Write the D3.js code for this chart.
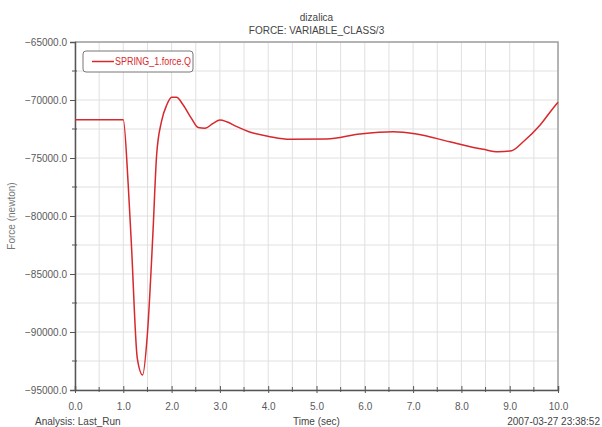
<!DOCTYPE html>
<html>
<head>
<meta charset="utf-8">
<script src="https://cdn.jsdelivr.net/npm/d3@7"></script>
<style>
  body { margin: 0; background: #fff; }
  svg text { font-family: "Liberation Sans", Arial, sans-serif; fill: #444; }
</style>
</head>
<body>
<div id="vis"></div>
<script>
// Data
var times = [0, 1.0, 1.10, 1.17, 1.29, 1.40, 1.50, 1.61, 1.69, 1.79, 1.90, 2.00, 2.10, 2.24, 2.41, 2.55, 2.69, 2.86, 3.0, 3.14, 3.35, 3.60, 4.04, 4.45, 5.21, 5.90, 6.59, 7.07, 7.76, 8.45, 8.76, 9.04, 9.28, 9.63, 9.87, 10.0];
var forces = [-71700, -71700, -77180, -82650, -92270, -93700, -90110, -81780, -74740, -71870, -70430, -69770, -69770, -70430, -71580, -72380, -72440, -72010, -71720, -71870, -72300, -72730, -73160, -73390, -73360, -72930, -72730, -72930, -73600, -74250, -74460, -74370, -73600, -72160, -70860, -70200];
var xTicks = [0, 1, 2, 3, 4, 5, 6, 7, 8, 9, 10];
var yTicks = [-65000, -70000, -75000, -80000, -85000, -90000, -95000];
var seriesName = 'SPRING_1.force.Q';

var width = 602, height = 427;
var margin = { left: 75, right: 44, top: 42, bottom: 37 };

var svg = d3.select('#vis').append('svg')
  .attr('width', width)
  .attr('height', height);

var x = d3.scaleLinear().domain([0, 10]).range([margin.left, width - margin.right]);
var y = d3.scaleLinear().domain([-95000, -65000]).range([height - margin.bottom, margin.top]);

// grid every half step
var xGrid = d3.range(0, 10.01, 0.5);
var yGrid = d3.range(-95000, -64999, 2500);

svg.append('g').selectAll('line').data(xGrid).enter().append('line')
  .attr('x1', function (d) { return x(d); })
  .attr('x2', function (d) { return x(d); })
  .attr('y1', y(-65000)).attr('y2', y(-95000))
  .attr('stroke', '#e0e0e0').attr('stroke-width', 1);

svg.append('g').selectAll('line').data(yGrid).enter().append('line')
  .attr('y1', function (d) { return y(d); })
  .attr('y2', function (d) { return y(d); })
  .attr('x1', x(0)).attr('x2', x(10))
  .attr('stroke', '#e0e0e0').attr('stroke-width', 1);

// frame top/right
svg.append('path')
  .attr('d', 'M' + x(0) + ',' + y(-65000) + 'H' + x(10) + 'V' + y(-95000))
  .attr('fill', 'none').attr('stroke', '#a0a0a0').attr('stroke-width', 1.5);

// axes
var xAxis = d3.axisBottom(x).tickValues(xTicks).tickFormat(d3.format('.1f')).tickSize(-4).tickPadding(13);
var gx = svg.append('g').attr('transform', 'translate(0,' + y(-95000) + ')').call(xAxis);
gx.selectAll('.tick line').attr('y2', -4).attr('y1', 3);
gx.append('g').selectAll('line').data(xGrid.filter(function (d) { return d % 1 !== 0; })).enter().append('line')
  .attr('x1', function (d) { return x(d); }).attr('x2', function (d) { return x(d); })
  .attr('y1', 2).attr('y2', -3).attr('stroke', '#555');

var yAxis = d3.axisLeft(y).tickValues(yTicks).tickFormat(d3.format('.1f')).tickSize(5).tickPadding(3);
var gy = svg.append('g').attr('transform', 'translate(' + x(0) + ',0)').call(yAxis);
gy.append('g').selectAll('line').data(yGrid.filter(function (d) { return d % 5000 !== 0; })).enter().append('line')
  .attr('y1', function (d) { return y(d); }).attr('y2', function (d) { return y(d); })
  .attr('x1', -3).attr('x2', 2).attr('stroke', '#555');

[gx, gy].forEach(function (g) {
  g.select('.domain').attr('stroke', '#555').attr('stroke-width', 1.5);
  g.selectAll('.tick line').attr('stroke', '#555');
  g.selectAll('text').style('font-size', '10px').style('fill', '#5a5a5a')
    .style('font-family', '"Liberation Sans", Arial, sans-serif');
});

// line
var line = d3.line()
  .x(function (d, i) { return x(times[i]); })
  .y(function (d) { return y(d); })
  .curve(d3.curveMonotoneX);

svg.append('path')
  .datum(forces)
  .attr('d', line)
  .attr('fill', 'none')
  .attr('stroke', '#d8282c')
  .attr('stroke-width', 1.5);

// titles
var cx = (x(0) + x(10)) / 2;
svg.append('text').attr('x', cx).attr('y', 21).attr('text-anchor', 'middle')
  .style('font-size', '10px').text('dizalica');
svg.append('text').attr('x', cx).attr('y', 34).attr('text-anchor', 'middle')
  .style('font-size', '10px').text('FORCE: VARIABLE_CLASS/3');

svg.append('text')
  .attr('transform', 'translate(15,' + ((y(-65000) + y(-95000)) / 2) + ') rotate(-90)')
  .attr('text-anchor', 'middle')
  .style('font-size', '10px').style('fill', '#777')
  .text('Force (newton)');

svg.append('text').attr('x', 35).attr('y', 425)
  .style('font-size', '10px').text('Analysis: Last_Run');
svg.append('text').attr('x', cx).attr('y', 425).attr('text-anchor', 'middle')
  .style('font-size', '10px').text('Time (sec)');
svg.append('text').attr('x', 600).attr('y', 425).attr('text-anchor', 'end')
  .style('font-size', '10px').text('2007-03-27 23:38:52');

// legend
var legend = svg.append('g').attr('transform', 'translate(83,51)');
legend.append('rect')
  .attr('width', 110).attr('height', 21).attr('rx', 3)
  .attr('fill', '#fff').attr('stroke', '#777').attr('stroke-width', 1);
legend.append('line')
  .attr('x1', 9).attr('x2', 31).attr('y1', 10.5).attr('y2', 10.5)
  .attr('stroke', '#d8282c').attr('stroke-width', 1.5);
legend.append('text')
  .attr('x', 32).attr('y', 14)
  .attr('textLength', 76).attr('lengthAdjust', 'spacingAndGlyphs')
  .style('font-size', '10px').style('fill', '#d8282c')
  .text(seriesName);
</script>
</body>
</html>
